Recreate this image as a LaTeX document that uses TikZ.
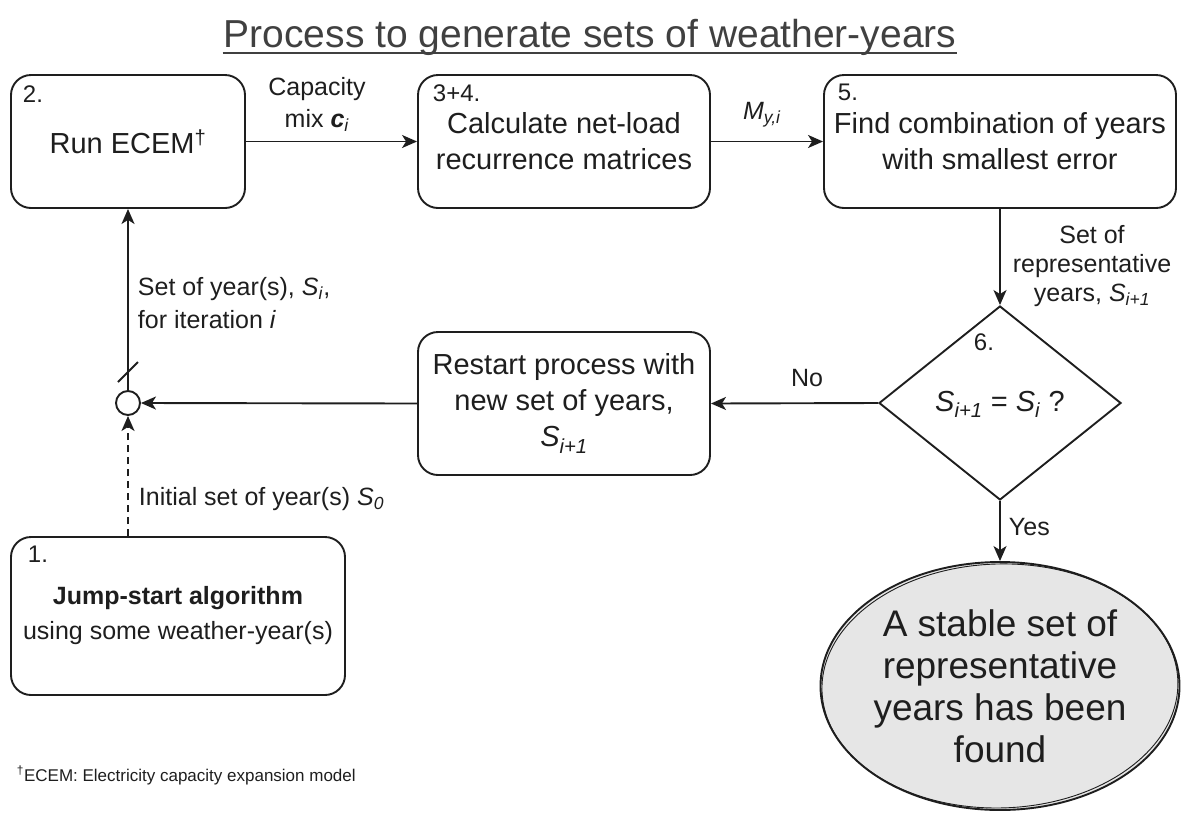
\documentclass[tikz,border=0pt]{standalone}
\usepackage{fontspec}
\setmainfont{Liberation Sans}
\usetikzlibrary{shapes.geometric,arrows.meta}
\definecolor{ink}{HTML}{1E1E1E}
\definecolor{ellfill}{HTML}{E6E6E6}
\newcommand\fs[2]{\fontsize{#1}{#2}\selectfont}
\newcommand\sbi[1]{\textsubscript{\textit{#1}}}
\begin{document}
\begin{tikzpicture}[x=1pt,y=-1pt,
  line width=1.9pt, draw=ink,
  arr/.style={-{Stealth[length=15pt,width=13pt,inset=4pt]}},
  box/.style={draw, rounded corners=20pt, inner sep=0pt, font=\fs{29}{36}, align=center, text=ink},
  lbl/.style={font=\fs{25}{32}, text=ink, inner sep=0pt, align=center},
  num/.style={font=\fs{24}{28}, text=ink, inner sep=0pt, anchor=base west},
]
\useasboundingbox (0,0) rectangle (1189,812);

% title
\node[font=\fs{39}{44}, text=ink!85, inner sep=0pt, anchor=base] (title) at (590,47) {Process to generate sets of weather-years};
\draw[line width=1.4pt, ink!85] ([yshift=-6pt]title.base west) -- ([yshift=-6pt]title.base east);

% boxes
\node[box, minimum width=234pt, minimum height=133pt] (b2) at (128,141.5) {Run ECEM\textsuperscript{†}};
\node[num] (n2) at (22,102) {2.};
\node[box, minimum width=292pt, minimum height=133pt] (b34) at (564,141.5) {Calculate net-load\\recurrence matrices};
\node[num] (n34) at (432,101) {3+4.};
\node[box, minimum width=352pt, minimum height=133pt] (b5) at (1000,141.5) {Find combination of years\\with smallest error};
\node[num] (n5) at (837,100) {5.};
\node[box, minimum width=292pt, minimum height=143pt] (rs) at (564,403.5) {Restart process with\\new set of years,\\\textit{S}\sbi{i+1}};
\node[box, minimum width=334pt, minimum height=158pt, font=\fs{25}{35}] (b1) at (178,616) {\textbf{Jump-start algorithm}\\using some weather-year(s)};
\node[num] (n1) at (27,562) {1.};

% decision
\node[diamond, draw, minimum width=242pt, minimum height=194pt, inner sep=0pt] (dia) at (1000,403) {};
\node[num] (n6) at (973,350) {6.};
\node[font=\fs{29}{36}, text=ink, inner sep=0pt] (q) at (1000,404) {\textit{S}\sbi{i+1} = \textit{S}\sbi{i} ?};

% junction
\node[circle, draw, minimum size=24pt, inner sep=0pt] (junc) at (128,403) {};

% end ellipse
\node[ellipse, draw, fill=ellfill, minimum width=359pt, minimum height=248pt, inner sep=0pt,
      font=\fs{37}{42}, align=center, text=ink] (ell) at (1000,686) {A stable set of\\representative\\years has been\\found};
\draw[line width=0.9pt, rotate around={1.5:(ell.center)}] (ell.center) ellipse [x radius=178pt, y radius=122pt];

% connectors
\draw[arr] (b2.east) -- (b34.west);
\draw[arr] (b34.east) -- (b5.west);
\draw[arr] (b5.south) -- (dia.north);
\draw[arr] (dia.west) -- (rs.east);
\draw[arr] (rs.west) -- (junc.east);
\draw[arr] (junc.north) -- (b2.south);
\draw[arr, dash pattern=on 7pt off 5pt] (b1.north -| junc.south) -- (junc.south);
\draw[arr] (dia.south) -- (ell.north);
\draw (118,382) -- (138,362);

% labels
\node[lbl] (lcap) at (317,104) {Capacity\\mix \textbf{\textit{c}}\sbi{i}};
\node[lbl] (lm) at (762,115) {\textit{M}\sbi{y,i}};
\node[lbl, font=\fs{25}{29}] (lset) at (1092,266) {Set of\\representative\\years, \textit{S}\sbi{i+1}};
\node[lbl] (lno) at (807,378) {No};
\node[lbl, anchor=west] (lyes) at (1008,527) {Yes};
\node[lbl, anchor=west, align=left, font=\fs{25}{33}] (lsi) at (137,303) {Set of year(s), \textit{S}\sbi{i},\\for iteration \textit{i}};
\node[lbl, anchor=west] (lini) at (138,499) {Initial set of year(s) \textit{S}\sbi{0}};

% footnote
\node[font=\fs{17}{20}, text=ink, inner sep=0pt, anchor=base west] (foot) at (16,781) {\textsuperscript{†}ECEM: Electricity capacity expansion model};
\end{tikzpicture}
\end{document}
